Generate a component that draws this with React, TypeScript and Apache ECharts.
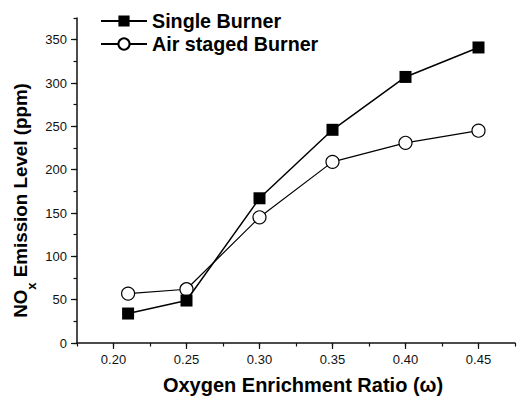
import React, { useEffect, useRef } from "react";
import * as echarts from "echarts";

const xValues = [0.21, 0.25, 0.3, 0.35, 0.4, 0.45];
const singleBurner = [34, 49, 167, 246, 307, 341];
const airStagedBurner = [57, 62, 145, 209, 231, 245];
const xTickLabels = ["0.20", "0.25", "0.30", "0.35", "0.40", "0.45"];
const yTickLabels = ["0", "50", "100", "150", "200", "250", "300", "350"];
const seriesNames = ["Single Burner", "Air staged Burner"];

const FONT = '"Liberation Sans", Arial, Helvetica, sans-serif';

// category positions every half step (minor positions empty)
const xCats: string[] = [];
for (let i = 0; i < xTickLabels.length * 2 + 1; i++) {
  xCats.push(i % 2 === 1 ? xTickLabels[(i - 1) / 2] : "");
}
const yCats: string[] = [];
for (let i = 0; i < yTickLabels.length * 2; i++) {
  yCats.push(i % 2 === 0 ? yTickLabels[i / 2] : "");
}

export default function App() {
  const ref = useRef<HTMLDivElement>(null);
  useEffect(() => {
    if (!ref.current) return;
    const chart = echarts.init(ref.current, undefined, { renderer: "svg" });
    const axisColor = "#111";
    chart.setOption({
      animation: false,
      backgroundColor: "#fff",
      textStyle: { fontFamily: FONT },
      grid: {
        left: 77,
        right: 5,
        top: 18,
        bottom: 56,
        containLabel: false,
        outerBoundsMode: "none",
      },
      legend: {
        data: seriesNames,
        orient: "vertical",
        left: 95,
        top: 6,
        itemWidth: 46,
        itemHeight: 14,
        itemGap: 3,
        textStyle: {
          fontFamily: FONT,
          fontSize: 19.7,
          fontWeight: "bold",
          color: "#000",
          lineHeight: 20,
        },
      },
      xAxis: [
        {
          type: "value",
          min: 0.175,
          max: 0.475,
          interval: 0.025,
          position: "bottom",
          axisLine: { show: true, lineStyle: { color: axisColor, width: 1.5 } },
          axisTick: { show: true, inside: false, length: 3.5, lineStyle: { color: axisColor, width: 1.2 } },
          axisLabel: { show: false },
          splitLine: { show: false },
          name: "Oxygen Enrichment Ratio (ω)",
          nameLocation: "middle",
          nameGap: 32,
          nameTextStyle: {
            fontFamily: FONT,
            fontSize: 20,
            fontWeight: "bold",
            color: "#000",
            lineHeight: 20,
            padding: [0, 0, 0, 14],
          },
        },
        {
          type: "category",
          data: xCats,
          boundaryGap: false,
          position: "bottom",
          axisLine: { show: false },
          axisTick: {
            show: true,
            inside: false,
            length: 6,
            interval: (i: number) => i % 2 === 1,
            lineStyle: { color: axisColor, width: 1.2 },
          },
          axisLabel: {
            interval: 0,
            margin: 10,
            fontFamily: FONT,
            fontSize: 13,
            color: "#111",
          },
          splitLine: { show: false },
        },
      ],
      yAxis: [
        {
          type: "value",
          min: 0,
          max: 375,
          interval: 25,
          position: "left",
          axisLine: { show: true, lineStyle: { color: axisColor, width: 1.5 } },
          axisTick: { show: true, inside: false, length: 3.5, lineStyle: { color: axisColor, width: 1.2 } },
          axisLabel: { show: false },
          splitLine: { show: false },
          name: "{a|NO}{sub|x}{a| Emission Level (ppm)}",
          nameLocation: "middle",
          nameGap: 39,
          nameTextStyle: {
            fontFamily: FONT,
            fontSize: 18.8,
            fontWeight: "bold",
            color: "#000",
            padding: [0, 40, 0, 0],
            rich: {
              a: {
                fontFamily: FONT,
                fontSize: 18.8,
                fontWeight: "bold",
                color: "#000",
                verticalAlign: "top",
              },
              sub: {
                fontFamily: FONT,
                fontSize: 13,
                fontWeight: "bold",
                color: "#000",
                verticalAlign: "top",
                padding: [14, 0, 0, 0],
              },
            },
          },
        },
        {
          type: "category",
          data: yCats,
          boundaryGap: false,
          position: "left",
          axisLine: { show: false },
          axisTick: {
            show: true,
            inside: false,
            length: 6,
            interval: (i: number) => i % 2 === 0,
            lineStyle: { color: axisColor, width: 1.2 },
          },
          axisLabel: {
            interval: 0,
            margin: 10,
            fontFamily: FONT,
            fontSize: 13,
            color: "#111",
          },
          splitLine: { show: false },
        },
      ],
      series: [
        {
          name: seriesNames[0],
          type: "line",
          xAxisIndex: 0,
          yAxisIndex: 0,
          data: xValues.map((x, i) => [x, singleBurner[i]]),
          symbol: "rect",
          symbolSize: 12,
          lineStyle: { color: "#000", width: 1.5 },
          itemStyle: { color: "#000", borderColor: "#000", borderWidth: 0 },
          z: 3,
        },
        {
          name: seriesNames[1],
          type: "line",
          xAxisIndex: 0,
          yAxisIndex: 0,
          data: xValues.map((x, i) => [x, airStagedBurner[i]]),
          symbol: "circle",
          symbolSize: 13,
          lineStyle: { color: "#000", width: 1.2 },
          itemStyle: { color: "#fff", borderColor: "#000", borderWidth: 1.2 },
          z: 2,
        },
      ],
    });
    return () => chart.dispose();
  }, []);
  return (
    <div
      ref={ref}
      style={{ position: "absolute", left: 0, top: 0, width: 520, height: 399 }}
    />
  );
}
